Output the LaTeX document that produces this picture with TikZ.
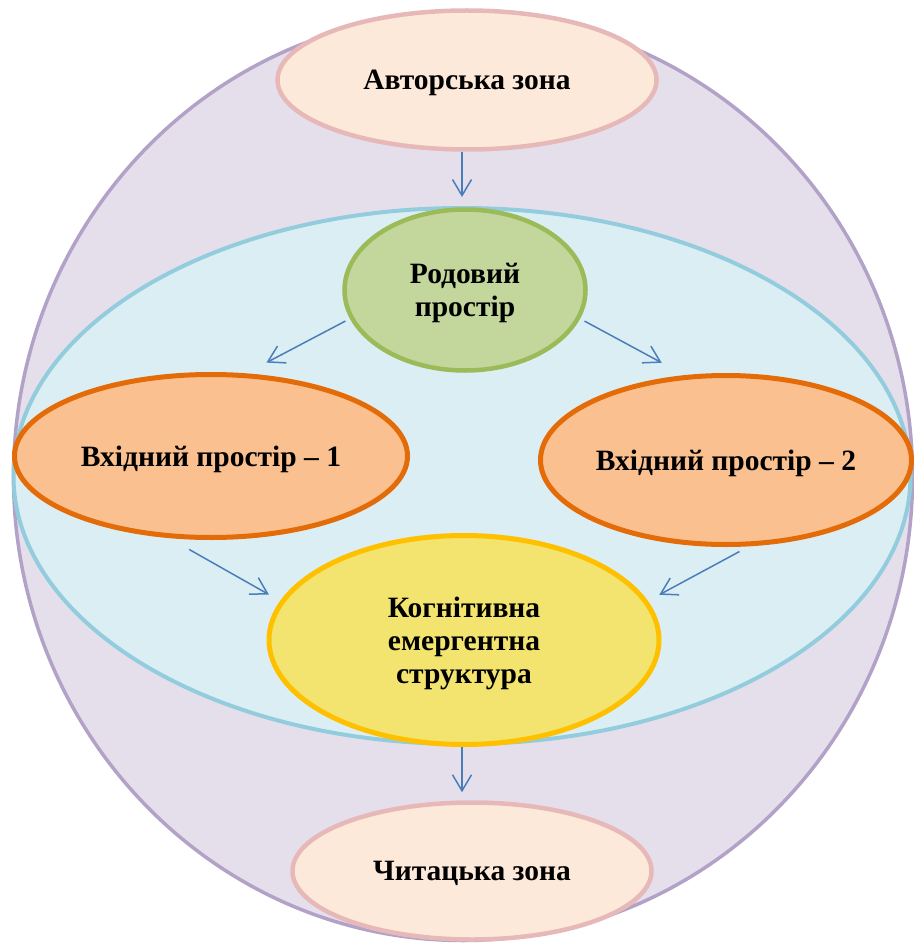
\documentclass[tikz,border=0pt]{standalone}
\usepackage{fontspec}
\setmainfont{Liberation Serif}
\usetikzlibrary{shapes.geometric,arrows.meta}

\definecolor{outerfill}{HTML}{E5DFEC}
\definecolor{outerline}{HTML}{B2A2C7}
\definecolor{bluefill}{HTML}{DBEEF4}
\definecolor{blueline}{HTML}{93CDDD}
\definecolor{zonefill}{HTML}{FDE9D9}
\definecolor{zoneline}{HTML}{E6B9B8}
\definecolor{greenfill}{HTML}{C3D69B}
\definecolor{greenline}{HTML}{9BBB59}
\definecolor{orangefill}{HTML}{FAC090}
\definecolor{orangeline}{HTML}{E36C09}
\definecolor{yellowfill}{HTML}{F3E36F}
\definecolor{yellowline}{HTML}{FFC000}
\definecolor{arrowblue}{HTML}{4A7EBB}

\begin{document}
\begin{tikzpicture}[x=1pt,y=-1pt,
  blob/.style={ellipse, inner sep=0pt, align=center, text depth=0pt,
    font=\bfseries\fontsize{29.5}{33}\selectfont, text=black},
  zonebox/.style={blob, draw=zoneline, fill=zonefill, line width=4.5pt},
  genbox/.style={blob, draw=greenline, fill=greenfill, line width=4.5pt},
  inputbox/.style={blob, draw=orangeline, fill=orangefill, line width=5pt},
  blendbox/.style={blob, draw=yellowline, fill=yellowfill, line width=5pt},
  arr/.style={draw=arrowblue, line width=1.5pt,
    -{Straight Barb[length=16pt,width=19pt]}}
]
\useasboundingbox (0,0) rectangle (913,944);

% outer sphere and the space of conceptual integration
\node[ellipse, inner sep=0pt, minimum width=899pt, minimum height=927pt,
  draw=outerline, fill=outerfill, line width=3.5pt] (outer) at (463,477) {};
\node[ellipse, inner sep=0pt, minimum width=897pt, minimum height=536pt,
  draw=blueline, fill=bluefill, line width=4pt] (blue) at (462,476) {};

% zones and mental spaces
\node[zonebox, minimum width=379pt, minimum height=139pt] (author) at (467,80) {Авторська зона};
\node[zonebox, minimum width=359pt, minimum height=137pt] (reader) at (472,871) {Читацька зона};
\node[genbox, minimum width=241pt, minimum height=161pt] (generic) at (465,290) {Родовий\\простір};
\node[inputbox, minimum width=393pt, minimum height=163pt] (inA) at (211,456) {Вхідний простір – 1};
\node[inputbox, minimum width=371pt, minimum height=169pt] (inB) at (726,460) {Вхідний простір – 2};
\node[blendbox, minimum width=390pt, minimum height=209pt] (blend) at (464,640) {Когнітивна\\емергентна\\структура};

% connectors
\draw[arr, shorten >=9pt] (author.south -| blue.north) -- (blue.north);
\draw[arr, shorten <=5pt, shorten >=23pt] (generic.194) -- (inA.67);
\draw[arr, shorten <=5pt, shorten >=26pt] (generic.-14) -- (inB.116);
\draw[arr, shorten <=23pt, shorten >=13pt] (inA.243) -- (blend.168);
\draw[arr, shorten <=11pt, shorten >=13pt] (inB.285) -- (blend.12);
\draw[arr, shorten >=8pt] (blend.south -| blue.south) -- (reader.north -| blue.south);
\end{tikzpicture}
\end{document}
